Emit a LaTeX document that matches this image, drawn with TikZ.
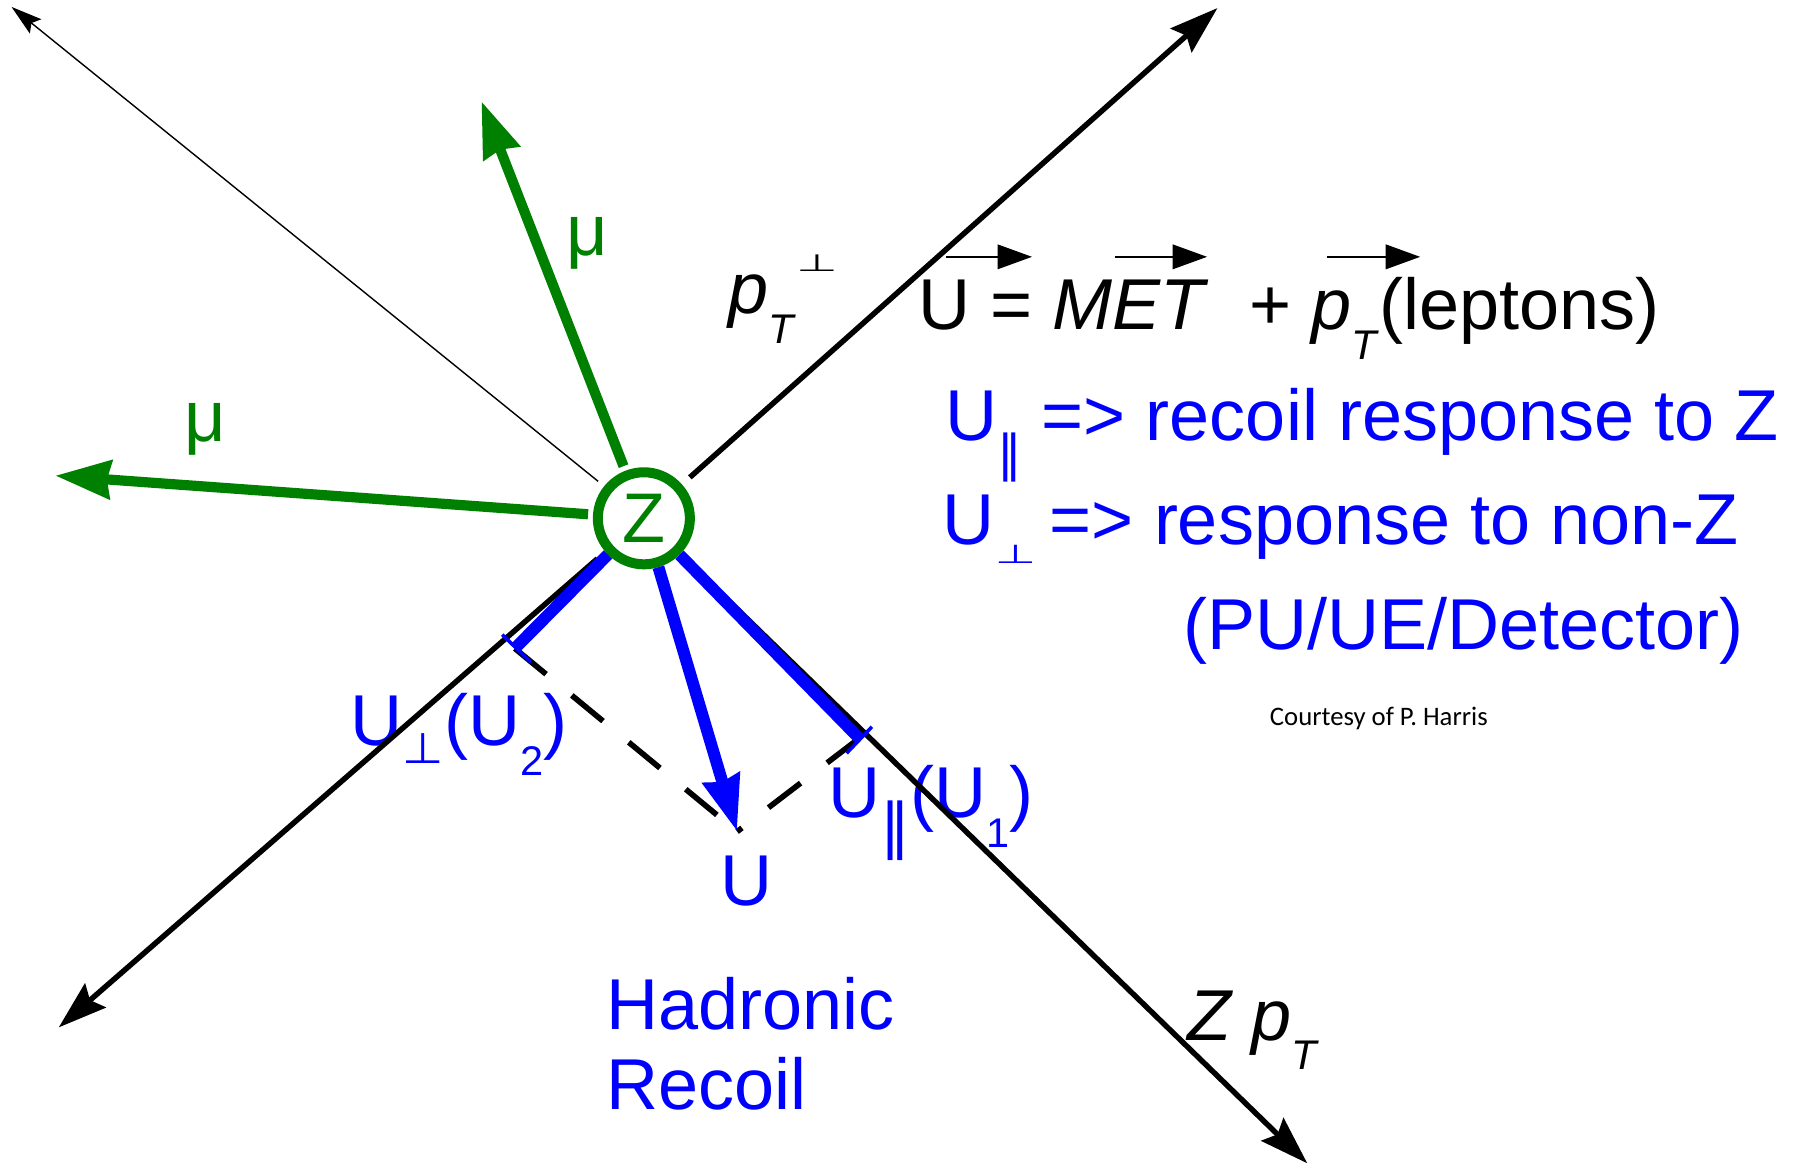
\documentclass[tikz,border=0pt]{standalone}
\usepackage{fontspec}
\setmainfont{Liberation Sans}
\newfontfamily\dejavu{DejaVu Sans}
\newfontfamily\carlitofont{Carlito}
\usepackage{graphicx}
\usetikzlibrary{arrows.meta}

\definecolor{mugreen}{RGB}{0,128,0}
\definecolor{recblue}{RGB}{0,0,255}

% 下标与符号
\newcommand{\lowsub}[1]{\raisebox{-8.5pt}{\fontsize{11.8pt}{12pt}\selectfont #1}}
\newcommand{\perpmark}[1][0.55]{\scalebox{1}[#1]{\fontsize{13.5pt}{14pt}\dejavu ⊥}}
\newcommand{\parmark}[1]{{\fontsize{#1}{#1}\dejavu ‖}}

\begin{document}
\begin{tikzpicture}[x=0.011518cm, y=-0.011518cm,
    axisline/.style={line width=1.55pt, shorten <=3pt, -{Stealth[length=13.8pt, width=9pt, inset=2pt]}},
    muline/.style={mugreen, line width=2.9pt, shorten <=1.4pt, -{Stealth[length=15.7pt, width=10.8pt, inset=1pt]}},
    recoil/.style={recblue, line width=3.4pt},
    endtick/.style={recblue, line width=1pt},
    proj/.style={line width=1.6pt, dash pattern=on 11.5pt off 9.5pt},
    vecarrow/.style={line width=0.45pt, -{Triangle[length=9.8pt, width=7pt]}},
    txt/.style={inner sep=0pt, anchor=base west, font=\fontsize{20.5pt}{23pt}\selectfont}]
  \useasboundingbox (0,0) rectangle (1568,1011);

  % Z 玻色子
  \node[circle, draw=mugreen, line width=2.85pt, fill=white, minimum size=26.2pt, inner sep=0pt,
        text=mugreen, font=\fontsize{20pt}{20pt}\selectfont] (Z) at (559,450) {Z};

  % 箭头端点
  \coordinate (ur) at (1057,7);
  \coordinate (ll) at (51,892);
  \coordinate (lr) at (1135,1010);
  \coordinate (tl) at (10,6);
  \coordinate (muA) at (418,88);
  \coordinate (muB) at (48,413);
  \coordinate (uperp) at (447,563);
  \coordinate (upar) at (746,641);
  \coordinate (utip) at (640,722);

  % 文字
  \node[txt] (eqn) at (797,286.5) {U = \textit{MET}\ \ + \textit{p}\lowsub{\textit{T}}(leptons)};
  \node[txt] (pperp) at (632,272) {\textit{p}\lowsub{\textit{T}}\raisebox{11.8pt}{\perpmark[0.5]}};
  \node[txt] (zpt) at (1030,903) {\textit{Z p}\lowsub{\textit{T}}};
  \node[txt, text=mugreen] (muup) at (491,222) {μ};
  \node[txt, text=mugreen] (muleft) at (160,383) {μ};
  \node[txt, text=recblue] (line1) at (820,382.6) {U\raisebox{-8.4pt}{\parmark{14pt}} => recoil response to Z};
  \node[txt, text=recblue] (line2) at (818,473) {U\raisebox{-5.2pt}{\perpmark}\kern-1.8pt{} => response to non-Z};
  \node[txt, text=recblue] (line3) at (1027,563.7) {(PU/UE/Detector)};
  \node[txt, font=\carlitofont\fontsize{7.6pt}{9pt}\selectfont] (credit) at (1102,629.5) {Courtesy of P. Harris};
  \node[txt, text=recblue] (uperplbl) at (304,647) {U\raisebox{-5.2pt}{\perpmark[0.9]}(U\lowsub{2})};
  \node[txt, text=recblue] (uparlbl) at (719,710) {U\raisebox{-8.3pt}{\parmark{17pt}}(U\lowsub{1})};
  \node[txt, text=recblue] (ulbl) at (625,786) {U};
  \node[txt, text=recblue] (had) at (526,893.6) {Hadronic};
  \node[txt, text=recblue] (rec) at (526,963.7) {Recoil};

  % 矢量符号上的箭头
  \coordinate (vU0) at (821,223);  \coordinate (vU1) at (896,223);
  \coordinate (vM0) at (968,223);  \coordinate (vM1) at (1048,223);
  \coordinate (vP0) at (1152,223); \coordinate (vP1) at (1233,223);
  \draw[vecarrow] (vU0) -- (vU1);
  \draw[vecarrow] (vM0) -- (vM1);
  \draw[vecarrow] (vP0) -- (vP1);

  % 坐标轴
  \draw[axisline] (Z) -- (ur);
  \draw[axisline] (Z) -- (ll);
  \draw[axisline] (Z) -- (lr);
  \draw[line width=0.4pt, shorten <=2.2pt, -{Stealth[length=8.8pt, width=5.2pt, inset=1.5pt]}] (Z) -- (tl);

  % 缪子
  \draw[muline] (Z) -- (muA);
  \draw[muline] (Z) -- (muB);

  % 投影虚线
  \draw[proj] (uperp) -- (utip);
  \draw[proj] (upar) -- (utip);

  % 强子反冲
  \draw[recoil] (Z) -- (uperp);
  \draw[recoil] (Z) -- (upar);
  \draw[recoil, -{Stealth[length=15.7pt, width=10.5pt, inset=1pt]}] (Z) -- (utip);
  \coordinate (tA1) at (436,551); \coordinate (tA2) at (461,575);
  \coordinate (tB1) at (757,631); \coordinate (tB2) at (735,654);
  \draw[endtick] (tA1) -- (tA2);
  \draw[endtick] (tB1) -- (tB2);
\end{tikzpicture}
\end{document}
